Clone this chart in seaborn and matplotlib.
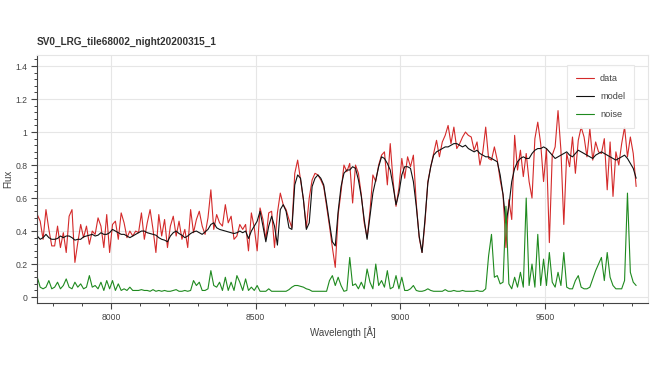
import numpy as np
import pandas as pd
import seaborn as sns
import matplotlib
matplotlib.use("Agg")
import matplotlib.pyplot as plt
from matplotlib.ticker import MultipleLocator, FuncFormatter

# ---------------- data ----------------
title = "SV0_LRG_tile68002_night20200315_1"
wavelength = np.arange(7745, 9816, 10)  # uniform 10 Å grid, 208 samples

data_flux = [
    0.50, 0.46, 0.35, 0.53, 0.41, 0.31, 0.31, 0.43, 0.30, 0.39,
    0.27, 0.49, 0.53, 0.21, 0.33, 0.44, 0.36, 0.43, 0.32, 0.40,
    0.38, 0.48, 0.43, 0.30, 0.50, 0.27, 0.44, 0.46, 0.35, 0.51,
    0.45, 0.36, 0.40, 0.37, 0.40, 0.39, 0.51, 0.35, 0.45, 0.53,
    0.41, 0.27, 0.50, 0.37, 0.47, 0.30, 0.43, 0.49, 0.37, 0.46,
    0.35, 0.41, 0.30, 0.53, 0.39, 0.47, 0.52, 0.43, 0.38, 0.48,
    0.65, 0.41, 0.50, 0.45, 0.43, 0.56, 0.45, 0.49, 0.35, 0.37,
    0.44, 0.41, 0.44, 0.28, 0.51, 0.42, 0.28, 0.54, 0.47, 0.35,
    0.51, 0.52, 0.30, 0.51, 0.63, 0.56, 0.53, 0.47, 0.42, 0.75,
    0.83, 0.71, 0.59, 0.42, 0.60, 0.71, 0.75, 0.74, 0.71, 0.67,
    0.55, 0.43, 0.30, 0.18, 0.50, 0.64, 0.80, 0.76, 0.81, 0.57,
    0.80, 0.75, 0.62, 0.45, 0.36, 0.52, 0.74, 0.70, 0.80, 0.86,
    0.88, 0.68, 0.93, 0.70, 0.55, 0.66, 0.84, 0.72, 0.85, 0.79,
    0.86, 0.57, 0.36, 0.27, 0.45, 0.70, 0.79, 0.87, 0.95, 0.85,
    0.94, 0.98, 1.04, 0.93, 1.03, 0.90, 0.93, 0.97, 1.00, 0.98,
    0.97, 0.89, 0.94, 0.80, 0.88, 1.03, 0.84, 0.83, 0.91, 0.83,
    0.71, 0.62, 0.30, 0.59, 0.47, 0.98, 0.77, 0.89, 0.73, 0.87,
    0.70, 0.60, 0.96, 1.06, 0.93, 0.70, 0.90, 0.33, 0.86, 0.91,
    1.13, 0.89, 0.44, 0.87, 0.79, 0.97, 0.75, 0.95, 1.03, 0.97,
    0.85, 1.02, 0.83, 0.94, 0.88, 0.87, 0.96, 0.65, 0.94, 0.61,
    0.88, 0.80, 0.93, 1.03, 0.85, 0.97, 0.87, 0.67,
]

model_flux = [
    0.37, 0.35, 0.36, 0.38, 0.36, 0.35, 0.35, 0.355, 0.37, 0.36,
    0.37, 0.37, 0.36, 0.345, 0.35, 0.35, 0.365, 0.37, 0.375, 0.38,
    0.37, 0.375, 0.39, 0.38, 0.38, 0.39, 0.41, 0.40, 0.39, 0.38,
    0.38, 0.37, 0.36, 0.37, 0.38, 0.39, 0.40, 0.40, 0.39, 0.385,
    0.38, 0.375, 0.36, 0.35, 0.345, 0.335, 0.37, 0.39, 0.40, 0.385,
    0.375, 0.36, 0.37, 0.385, 0.395, 0.40, 0.39, 0.38, 0.395, 0.41,
    0.44, 0.45, 0.42, 0.41, 0.405, 0.40, 0.395, 0.39, 0.385, 0.39,
    0.40, 0.39, 0.40, 0.355, 0.40, 0.43, 0.46, 0.52, 0.43, 0.335,
    0.43, 0.49, 0.43, 0.315, 0.53, 0.56, 0.52, 0.42, 0.41, 0.68,
    0.74, 0.72, 0.59, 0.41, 0.45, 0.67, 0.72, 0.74, 0.72, 0.68,
    0.57, 0.45, 0.335, 0.31, 0.52, 0.67, 0.75, 0.77, 0.77, 0.79,
    0.78, 0.71, 0.61, 0.47, 0.35, 0.49, 0.63, 0.71, 0.79, 0.85,
    0.84, 0.81, 0.77, 0.67, 0.56, 0.63, 0.74, 0.79, 0.79, 0.78,
    0.70, 0.55, 0.37, 0.27, 0.47, 0.69, 0.79, 0.86, 0.88, 0.89,
    0.90, 0.91, 0.91, 0.92, 0.93, 0.93, 0.92, 0.91, 0.92, 0.90,
    0.89, 0.88, 0.89, 0.87, 0.86, 0.85, 0.85, 0.84, 0.83, 0.82,
    0.74, 0.62, 0.45, 0.55, 0.70, 0.78, 0.82, 0.84, 0.85, 0.84,
    0.84, 0.87, 0.89, 0.90, 0.90, 0.91, 0.90, 0.88, 0.86, 0.84,
    0.85, 0.86, 0.87, 0.88, 0.86, 0.85, 0.87, 0.89, 0.88, 0.87,
    0.86, 0.85, 0.84, 0.86, 0.87, 0.88, 0.87, 0.86, 0.85, 0.84,
    0.83, 0.84, 0.85, 0.86, 0.84, 0.81, 0.78, 0.72,
]

noise_flux = [
    0.12, 0.06, 0.05, 0.06, 0.10, 0.05, 0.06, 0.09, 0.05, 0.07,
    0.11, 0.06, 0.05, 0.09, 0.06, 0.08, 0.05, 0.06, 0.13, 0.06,
    0.07, 0.05, 0.09, 0.04, 0.10, 0.05, 0.10, 0.04, 0.08, 0.04,
    0.05, 0.04, 0.06, 0.04, 0.04, 0.04, 0.045, 0.04, 0.04, 0.035,
    0.045, 0.035, 0.04, 0.035, 0.04, 0.035, 0.035, 0.04, 0.045, 0.035,
    0.035, 0.04, 0.035, 0.04, 0.10, 0.07, 0.09, 0.04, 0.04, 0.05,
    0.16, 0.07, 0.06, 0.09, 0.04, 0.12, 0.04, 0.09, 0.04, 0.13,
    0.09, 0.04, 0.11, 0.04, 0.06, 0.04, 0.07, 0.035, 0.035, 0.035,
    0.05, 0.035, 0.035, 0.035, 0.035, 0.035, 0.035, 0.045, 0.06, 0.07,
    0.07, 0.065, 0.06, 0.05, 0.045, 0.035, 0.035, 0.035, 0.035, 0.035,
    0.035, 0.10, 0.13, 0.07, 0.12, 0.07, 0.035, 0.04, 0.24, 0.07,
    0.08, 0.05, 0.09, 0.05, 0.17, 0.09, 0.05, 0.20, 0.07, 0.10,
    0.06, 0.16, 0.05, 0.06, 0.13, 0.05, 0.12, 0.04, 0.04, 0.05,
    0.07, 0.04, 0.035, 0.035, 0.04, 0.05, 0.04, 0.035, 0.035, 0.035,
    0.035, 0.045, 0.035, 0.035, 0.04, 0.035, 0.035, 0.04, 0.035, 0.035,
    0.035, 0.035, 0.04, 0.035, 0.035, 0.05, 0.25, 0.38, 0.12, 0.13,
    0.08, 0.09, 0.55, 0.08, 0.05, 0.12, 0.06, 0.15, 0.06, 0.60,
    0.07, 0.20, 0.06, 0.38, 0.07, 0.23, 0.07, 0.27, 0.09, 0.06,
    0.15, 0.07, 0.27, 0.06, 0.05, 0.05, 0.10, 0.13, 0.06, 0.05,
    0.05, 0.06, 0.11, 0.16, 0.20, 0.24, 0.10, 0.27, 0.12, 0.07,
    0.05, 0.05, 0.05, 0.10, 0.63, 0.15, 0.09, 0.07,
]

series_labels = ["data", "model", "noise"]
series_colors = ["#d42a2a", "#111111", "#1f8a1f"]

# ---------------- figure ----------------
sns.set_theme(style="white")
plt.rcParams['font.family'] = ['Liberation Sans', 'DejaVu Sans']

fig = plt.figure(figsize=(6.5, 3.66), dpi=100)
W, H = 650, 366
left, right, top, bottom = 37, 648, 55, 303
ax = fig.add_axes([left / W, 1 - bottom / H, (right - left) / W, (bottom - top) / H])

for vals, lab, col in zip([data_flux, model_flux, noise_flux], series_labels, series_colors):
    df = pd.DataFrame({"wavelength": wavelength, "flux": vals})
    sns.lineplot(data=df, x="wavelength", y="flux", ax=ax, color=col, lw=0.8,
                 label=lab, estimator=None, sort=False)

ax.set_xlim(7744, 9856)
ax.set_ylim(-0.036, 1.467)

ax.xaxis.set_major_locator(MultipleLocator(500))
ax.xaxis.set_minor_locator(MultipleLocator(100))
ax.yaxis.set_major_locator(MultipleLocator(0.2))
ax.yaxis.set_minor_locator(MultipleLocator(0.04))
ax.yaxis.set_major_formatter(FuncFormatter(lambda v, p: "%g" % round(v, 2)))

ax.grid(True, which="major", color="#e6e6e6", lw=0.8)
ax.set_axisbelow(True)

tick_col = "#444444"
ax.tick_params(axis="both", which="major", direction="out", length=4.5, width=0.8,
               color=tick_col, labelsize=6.2, labelcolor=tick_col, pad=2.5)
ax.tick_params(axis="both", which="minor", direction="out", length=2.5, width=0.7,
               color=tick_col)
ax.tick_params(axis="x", which="major", pad=3)
ax.tick_params(left=True, bottom=True, which="both")

for s in ["left", "bottom"]:
    ax.spines[s].set_color(tick_col)
    ax.spines[s].set_linewidth(0.8)
for s in ["top", "right"]:
    ax.spines[s].set_color("#e5e5e5")
    ax.spines[s].set_linewidth(0.8)

ax.set_xlabel("Wavelength [Å]", fontsize=7.0, color=tick_col, labelpad=3)
ax.set_ylabel("Flux", fontsize=7.0, color=tick_col)
ax.yaxis.set_label_coords((13 - left) / (right - left), 0.5)

fig.text(left / W, 1 - 42 / H, title, fontsize=7.2, fontweight="bold",
         color="#333333", ha="left", va="center")

leg = ax.legend(loc="upper right", bbox_to_anchor=(0.985, 0.98), fontsize=6.6,
                frameon=True, handlelength=2.0, handletextpad=0.6,
                labelspacing=1.0, borderpad=1.0, fancybox=False)
leg.get_frame().set_edgecolor("#e5e5e5")
leg.get_frame().set_linewidth(0.8)
leg.get_frame().set_alpha(0.9)
for t in leg.get_texts():
    t.set_color(tick_col)

fig.savefig("out.png", dpi=100)
